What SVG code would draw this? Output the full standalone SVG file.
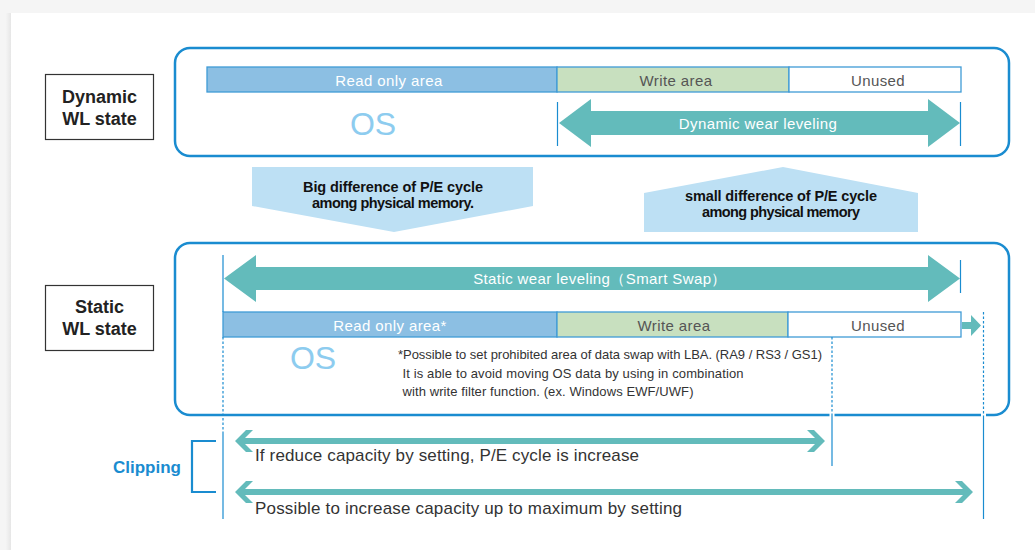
<svg xmlns="http://www.w3.org/2000/svg" width="1035" height="550" viewBox="0 0 1035 550">
<defs>
<style>
.frame{fill:none;stroke:#1a8cd0;stroke-width:2.5}
.lbl{fill:#fff;stroke:#333;stroke-width:1.2}
.lbltx{font-family:"Liberation Sans",Arial,sans-serif;font-weight:bold;font-size:18px;fill:#222;text-anchor:middle}
.ro{fill:#8cbfe3;stroke:#3f9bd6;stroke-width:1.3}
.wr{fill:#c8e0bf;stroke:#3f9bd6;stroke-width:1.3}
.un{fill:#fff;stroke:#3f9bd6;stroke-width:1.3}
.bartx{font-family:"Liberation Sans",Arial,sans-serif;font-size:15px;letter-spacing:0.4px;text-anchor:middle}
.w{fill:#fff}
.g{fill:#555}
.os{font-family:"Liberation Sans",Arial,sans-serif;font-size:32px;fill:#8dccef;text-anchor:middle}
.teal{fill:#63bbbb}
.vl{stroke:#1a8cd0;stroke-width:1.2;fill:none}
.dot{stroke:#1a8cd0;stroke-width:1.2;fill:none;stroke-dasharray:2.5 2}
.pent{fill:#bde0f4}
.btx{font-family:"Liberation Sans",Arial,sans-serif;font-weight:bold;font-size:14.5px;fill:#111;text-anchor:middle}
.note{font-family:"Liberation Sans",Arial,sans-serif;font-size:13px;fill:#333}
.cap{font-family:"Liberation Sans",Arial,sans-serif;font-size:17px;fill:#333}
</style>
<linearGradient id="sh" x1="0" x2="1" y1="0" y2="0">
<stop offset="0" stop-color="#f4f4f4"/>
<stop offset="1" stop-color="#e6e6e6"/>
</linearGradient>
</defs>
<rect x="0" y="0" width="1035" height="550" fill="#f5f5f5"/>
<rect x="6" y="13" width="5" height="537" fill="url(#sh)"/>
<rect x="11" y="13" width="1024" height="537" fill="#fff"/>

<g id="dynamic-label">
<rect class="lbl" x="45.5" y="74.5" width="108" height="65"/>
<text class="lbltx" x="99.5" y="103">Dynamic</text>
<text class="lbltx" x="99.5" y="125">WL state</text>
</g>
<g id="static-label">
<rect class="lbl" x="45.5" y="285.5" width="108" height="65"/>
<text class="lbltx" x="99.5" y="313">Static</text>
<text class="lbltx" x="99.5" y="335">WL state</text>
</g>

<g id="dynamic-state">
<rect class="frame" x="175" y="48" width="834" height="108" rx="15"/>
<rect class="ro" x="207" y="67" width="350" height="25"/>
<rect class="wr" x="557" y="67" width="232" height="25"/>
<rect class="un" x="789" y="67" width="172" height="25"/>
<text class="bartx w" x="389" y="86">Read only area</text>
<text class="bartx g" x="676" y="86">Write area</text>
<text class="bartx g" x="878" y="86">Unused</text>
<text class="os" x="373" y="135">OS</text>
</g>

<g id="static-state">
<rect class="frame" x="175" y="243" width="834" height="172" rx="15"/>
<rect class="ro" x="223" y="312" width="334" height="25"/>
<rect class="wr" x="557" y="312" width="231" height="25"/>
<rect class="un" x="788" y="312" width="173" height="25"/>
<text class="bartx w" x="390" y="331">Read only area*</text>
<text class="bartx g" x="674" y="331">Write area</text>
<text class="bartx g" x="878" y="331">Unused</text>
<text class="os" x="313" y="369">OS</text>
<text class="note" x="398" y="359" textLength="424" lengthAdjust="spacing">*Possible to set prohibited area of data swap with LBA. (RA9 / RS3 / GS1)</text>
<text class="note" x="402.5" y="377.5" textLength="341" lengthAdjust="spacing">It is able to avoid moving OS data by using in combination</text>
<text class="note" x="402.5" y="396" textLength="291" lengthAdjust="spacing">with write filter function. (ex. Windows EWF/UWF)</text>
</g>

<g id="big-difference">
<polygon class="pent" points="252,167 533,167 533,206 394,232 252,206"/>
<text class="btx" x="393" y="192" textLength="180" lengthAdjust="spacing">Big difference of P/E cycle</text>
<text class="btx" x="393" y="208" textLength="162" lengthAdjust="spacing">among physical memory.</text>
</g>
<g id="small-difference">
<polygon class="pent" points="644,193 783,167 918,193 918,232 644,232"/>
<text class="btx" x="781" y="201" textLength="192" lengthAdjust="spacing">small difference of P/E cycle</text>
<text class="btx" x="781" y="217" textLength="158" lengthAdjust="spacing">among physical memory</text>
</g>

<g id="clipping">
<path d="M216,441 H192 V492 H216" fill="none" stroke="#1a8cd0" stroke-width="2.2"/>
<text x="147" y="473" font-family="Liberation Sans,Arial,sans-serif" font-weight="bold" font-size="17" fill="#1a8cd0" text-anchor="middle">Clipping</text>
<text class="cap" x="255" y="461" textLength="384" lengthAdjust="spacing">If reduce capacity by setting, P/E cycle is increase</text>
<text class="cap" x="255" y="514" textLength="427" lengthAdjust="spacing">Possible to increase capacity up to maximum by setting</text>
</g>

<g id="connectors">
<polygon class="teal" points="559,123 591,99 591,111 928,111 928,99 960,123 928,147 928,135 591,135 591,147"/>
<text class="bartx w" x="758" y="128.5">Dynamic wear leveling</text>
<line class="vl" x1="557.5" y1="102" x2="557.5" y2="146"/>
<line class="vl" x1="960.5" y1="102" x2="960.5" y2="146"/>

<polygon class="teal" points="224,278.5 256,255 256,267 928,267 928,255 960,278.5 928,302 928,290 256,290 256,302"/>
<text class="bartx w" x="600" y="283.5" font-family="Liberation Sans,Noto Sans CJK JP,sans-serif">Static wear leveling（Smart Swap）</text>
<line class="vl" x1="223" y1="255" x2="223" y2="312"/>
<line class="vl" x1="960.5" y1="260" x2="960.5" y2="293"/>

<polygon class="teal" points="962,322 971,322 971,315 981,325.5 971,336 971,329 962,329"/>

<rect x="829.5" y="413" width="5" height="5" fill="#fff"/>
<rect x="981" y="413" width="5" height="5" fill="#fff"/>
<line class="dot" x1="223" y1="337" x2="223" y2="432"/>
<line class="vl" x1="223" y1="432" x2="223" y2="519"/>
<line class="dot" x1="832" y1="337" x2="832" y2="416"/>
<line class="vl" x1="832" y1="416" x2="832" y2="466"/>
<line class="dot" x1="983.5" y1="312" x2="983.5" y2="416"/>
<line class="vl" x1="983.5" y1="416" x2="983.5" y2="519"/>

<polygon class="teal" points="235,441 246,430 253,430 245,438 815,438 807,430 814,430 825,441 814,452 807,452 815,444 245,444 253,452 246,452"/>
<polygon class="teal" points="235,492 246,481 253,481 245,489 963,489 955,481 962,481 973,492 962,503 955,503 963,495 245,495 253,503 246,503"/>
</g>
</svg>
